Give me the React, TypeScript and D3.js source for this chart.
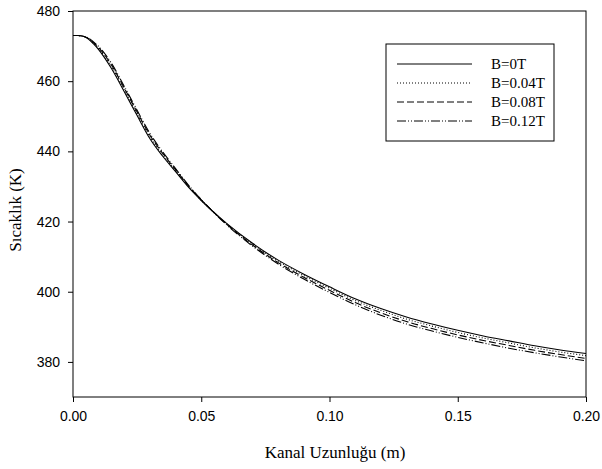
import React, { useRef, useEffect } from 'react';
import * as d3 from 'd3';

// distance along the channel (m)
const xPos = [0, 0.002, 0.004, 0.006, 0.008, 0.01, 0.012, 0.015, 0.02, 0.025, 0.03, 0.035, 0.04, 0.045, 0.05,
    0.06, 0.07, 0.08, 0.09, 0.1, 0.11, 0.12, 0.13, 0.14, 0.15, 0.16, 0.17, 0.18, 0.19, 0.2];

// temperature (K) for each field strength
const tB0 = [473.0, 473.0, 472.8, 472.0, 470.6, 469.0, 467.0, 463.6, 457.0, 450.2, 443.6, 438.6, 434.2, 429.8, 426.0,
    419.4, 413.8, 409.0, 405.0, 401.4, 398.0, 395.2, 392.8, 390.8, 389.0, 387.4, 386.0, 384.6, 383.4, 382.4];
const tB004 = [473.0, 473.0, 472.8, 472.1, 470.8, 469.3, 467.4, 464.1, 457.5, 450.7, 444.1, 439.0, 434.5, 430.0, 426.1,
    419.3, 413.6, 408.7, 404.6, 401.0, 397.5, 394.7, 392.2, 390.2, 388.4, 386.8, 385.4, 384.0, 382.8, 381.8];
const tB008 = [473.0, 473.0, 472.8, 472.2, 471.0, 469.6, 467.8, 464.6, 458.0, 451.2, 444.6, 439.4, 434.8, 430.2, 426.2,
    419.2, 413.3, 408.3, 404.1, 400.4, 396.9, 394.0, 391.5, 389.5, 387.7, 386.1, 384.7, 383.3, 382.1, 381.0];
const tB012 = [473.0, 473.0, 472.8, 472.3, 471.2, 469.9, 468.2, 465.1, 458.5, 451.7, 445.1, 439.8, 435.1, 430.4, 426.3,
    419.0, 413.0, 407.9, 403.6, 399.8, 396.3, 393.3, 390.8, 388.8, 387.0, 385.4, 383.9, 382.6, 381.4, 380.3];

const seriesNames = ['B=0T', 'B=0.04T', 'B=0.08T', 'B=0.12T'];
const seriesValues = [tB0, tB004, tB008, tB012];
const dashes = [null, '1,2', '7,3', '9,2,1,2,1,2'];

const xTicks = [0, 0.05, 0.1, 0.15, 0.2];
const yTicks = [380, 400, 420, 440, 460, 480];

const W = 602;
const H = 469;
const margin = { top: 11, right: 16, bottom: 72, left: 73 };

const SANS = "'Liberation Sans', Arial, sans-serif";
const SERIF = "'Liberation Serif', 'DejaVu Serif', serif";

const App = () => {
    const svgRef = useRef<SVGSVGElement>(null);

    useEffect(() => {
        const svg = d3.select(svgRef.current);
        svg.selectAll('*').remove();

        const iw = W - margin.left - margin.right;
        const ih = H - margin.top - margin.bottom;

        const x = d3.scaleLinear().domain([0, 0.2]).range([0, iw]);
        const y = d3.scaleLinear().domain([370, 480]).range([ih, 0]);

        const g = svg.append('g').attr('transform', `translate(${margin.left},${margin.top})`);

        // curves
        const line = d3.line<number>()
            .x((_, i) => x(xPos[i]))
            .y(d => y(d))
            .curve(d3.curveMonotoneX);

        seriesValues.forEach((vals, i) => {
            g.append('path')
                .datum(vals)
                .attr('d', line)
                .attr('fill', 'none')
                .attr('stroke', '#000')
                .attr('stroke-width', 1.1)
                .attr('stroke-dasharray', dashes[i]);
        });

        // frame
        g.append('rect')
            .attr('x', 0).attr('y', 0)
            .attr('width', iw).attr('height', ih)
            .attr('fill', 'none')
            .attr('stroke', '#000')
            .attr('stroke-width', 1);

        // axes
        g.append('g')
            .attr('transform', `translate(0,${ih})`)
            .call(d3.axisBottom(x).tickValues(xTicks).tickFormat(d3.format('.2f')).tickSize(5).tickPadding(9))
            .call(s => s.select('.domain').remove())
            .call(s => s.selectAll('.tick text')
                .style('font-family', SANS)
                .style('font-size', '14px')
                .attr('fill', '#000'));

        g.append('g')
            .call(d3.axisLeft(y).tickValues(yTicks).tickSize(5).tickPadding(8))
            .call(s => s.select('.domain').remove())
            .call(s => s.selectAll('.tick text')
                .style('font-family', SANS)
                .style('font-size', '14px')
                .attr('fill', '#000'));

        // axis titles
        svg.append('text')
            .attr('x', 335)
            .attr('y', 458)
            .attr('text-anchor', 'middle')
            .style('font-family', SERIF)
            .style('font-size', '17px')
            .text('Kanal Uzunluğu (m)');

        svg.append('text')
            .attr('transform', `translate(21,210) rotate(-90)`)
            .attr('text-anchor', 'middle')
            .style('font-family', SERIF)
            .style('font-size', '17px')
            .text('Sıcaklık (K)');

        // legend
        const lg = svg.append('g').attr('transform', 'translate(386,44)');
        lg.append('rect')
            .attr('width', 168).attr('height', 97)
            .attr('fill', '#fff')
            .attr('stroke', '#000')
            .attr('stroke-width', 1);

        seriesNames.forEach((name, i) => {
            const ry = 20 + i * 19;
            lg.append('line')
                .attr('x1', 11).attr('x2', 86)
                .attr('y1', ry).attr('y2', ry)
                .attr('stroke', '#000')
                .attr('stroke-width', 1)
                .attr('stroke-dasharray', dashes[i]);
            lg.append('text')
                .attr('x', 105).attr('y', ry)
                .attr('dy', '0.35em')
                .style('font-family', SERIF)
                .style('font-size', '15px')
                .text(name);
        });
    }, []);

    return (
        <div style={{ position: 'absolute', left: 0, top: 0, width: W, height: H, background: '#fff' }}>
            <svg ref={svgRef} width={W} height={H} />
        </div>
    );
};

export default App;
